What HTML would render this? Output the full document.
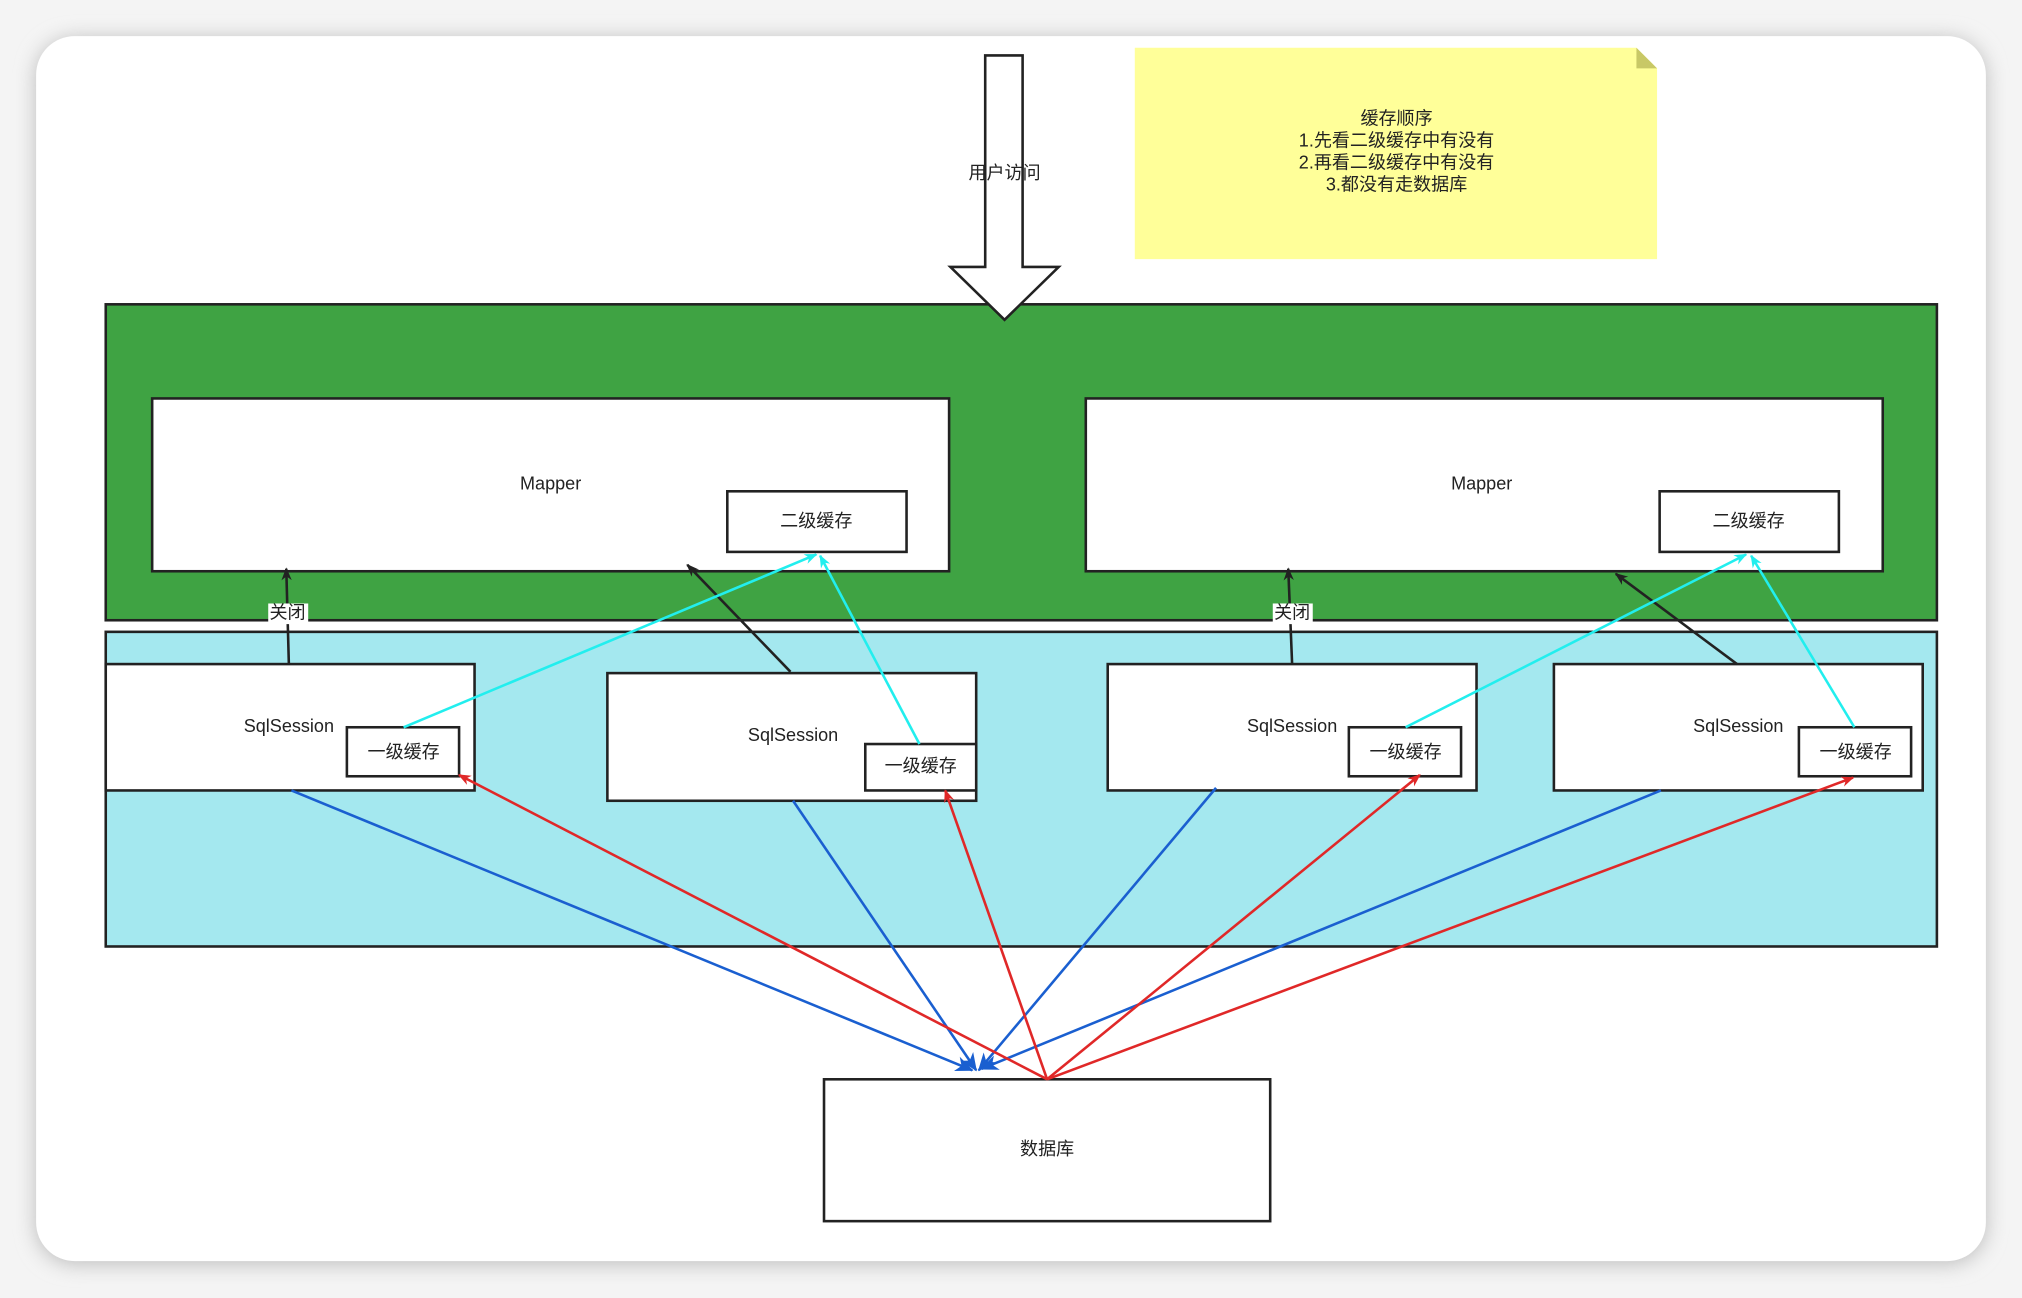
<!DOCTYPE html>
<html><head><meta charset="utf-8">
<style>
html,body{margin:0;padding:0;background:#fff;}
svg{display:block;}
text{font-family:"Liberation Sans","Noto Sans CJK SC",sans-serif;font-size:14px;fill:#222;text-anchor:middle;dominant-baseline:middle;}
</style></head>
<body>
<svg width="2022" height="1298" viewBox="0 0 1568 1006.6" preserveAspectRatio="none" xmlns="http://www.w3.org/2000/svg">
<defs>
<filter id="sh" x="-5%" y="-5%" width="110%" height="110%"><feGaussianBlur stdDeviation="8"/></filter>
<marker id="mk" markerWidth="10" markerHeight="10" refX="9" refY="5" orient="auto" markerUnits="userSpaceOnUse"><path d="M0,1 L10,5 L0,9 L3,5 z" fill="#222"/></marker>
<marker id="mc" markerWidth="10" markerHeight="10" refX="9" refY="5" orient="auto" markerUnits="userSpaceOnUse"><path d="M0,1 L10,5 L0,9 L3,5 z" fill="#22eeee"/></marker>
<marker id="mb" markerWidth="14" markerHeight="12" refX="13" refY="6" orient="auto" markerUnits="userSpaceOnUse"><path d="M0,0 L14,6 L0,12 L4,6 z" fill="#1a5fd0"/></marker>
<marker id="mr" markerWidth="10" markerHeight="10" refX="9" refY="5" orient="auto" markerUnits="userSpaceOnUse"><path d="M0,1 L10,5 L0,9 L3,5 z" fill="#e02828"/></marker>
</defs>
<rect x="0" y="0" width="1568" height="1007" fill="#f4f4f4"/>
<rect x="28" y="30" width="1512" height="950" rx="30" fill="#bbb" filter="url(#sh)"/>
<rect x="28" y="28" width="1512" height="950" rx="30" fill="#fff"/>

<!-- note -->
<path d="M880,37 H1269 L1285,53 V201 H880 z" fill="#ffff99"/>
<path d="M1269,37 L1285,53 H1269 z" fill="#c8c866"/>
<text x="1083" y="93">缓存顺序</text>
<text x="1083" y="110">1.先看二级缓存中有没有</text>
<text x="1083" y="127">2.再看二级缓存中有没有</text>
<text x="1083" y="144">3.都没有走数据库</text>

<!-- green -->
<rect x="82" y="236" width="1420" height="245" fill="#3fa343" stroke="#222" stroke-width="2"/>
<!-- block arrow -->
<path d="M764,43 H793 V207 H821 L779,248 L737,207 H764 z" fill="#fff" stroke="#222" stroke-width="2"/>
<text x="779" y="135">用户访问</text>

<rect x="118" y="309" width="618" height="134" fill="#fff" stroke="#222" stroke-width="2"/>
<text x="427" y="376">Mapper</text>
<rect x="564" y="381" width="139" height="47" fill="#fff" stroke="#222" stroke-width="2"/>
<text x="633" y="405">二级缓存</text>
<rect x="842" y="309" width="618" height="134" fill="#fff" stroke="#222" stroke-width="2"/>
<text x="1149" y="376">Mapper</text>
<rect x="1287" y="381" width="139" height="47" fill="#fff" stroke="#222" stroke-width="2"/>
<text x="1356" y="405">二级缓存</text>

<!-- cyan area -->
<rect x="82" y="490" width="1420" height="244" fill="#a4e8ef" stroke="#222" stroke-width="2"/>

<rect x="82" y="515" width="286" height="98" fill="#fff" stroke="#222" stroke-width="2"/>
<text x="224" y="564">SqlSession</text>
<rect x="269" y="564" width="87" height="38" fill="#fff" stroke="#222" stroke-width="2"/>
<text x="313" y="584">一级缓存</text>

<rect x="471" y="522" width="286" height="99" fill="#fff" stroke="#222" stroke-width="2"/>
<text x="615" y="571">SqlSession</text>
<rect x="671" y="577" width="86" height="36" fill="#fff" stroke="#222" stroke-width="2"/>
<text x="714" y="595">一级缓存</text>

<rect x="859" y="515" width="286" height="98" fill="#fff" stroke="#222" stroke-width="2"/>
<text x="1002" y="564">SqlSession</text>
<rect x="1046" y="564" width="87" height="38" fill="#fff" stroke="#222" stroke-width="2"/>
<text x="1090" y="584">一级缓存</text>

<rect x="1205" y="515" width="286" height="98" fill="#fff" stroke="#222" stroke-width="2"/>
<text x="1348" y="564">SqlSession</text>
<rect x="1395" y="564" width="87" height="38" fill="#fff" stroke="#222" stroke-width="2"/>
<text x="1439" y="584">一级缓存</text>

<!-- black -->
<g stroke="#222" stroke-width="2" fill="none" marker-end="url(#mk)">
<line x1="224" y1="515" x2="222" y2="441"/>
<line x1="613" y1="521" x2="533" y2="438"/>
<line x1="1002" y1="515" x2="999" y2="441"/>
<line x1="1347" y1="515" x2="1253" y2="445"/>
</g>
<rect x="208" y="468" width="31" height="16" fill="#fff"/>
<text x="223" y="476">关闭</text>
<rect x="987" y="468" width="31" height="16" fill="#fff"/>
<text x="1002" y="476">关闭</text>

<!-- cyan -->
<g stroke="#22eeee" stroke-width="2" fill="none" marker-end="url(#mc)">
<line x1="313" y1="564" x2="633" y2="430"/>
<line x1="713" y1="577" x2="636" y2="431"/>
<line x1="1090" y1="564" x2="1354" y2="430"/>
<line x1="1438" y1="564" x2="1358" y2="431"/>
</g>

<!-- database -->
<rect x="639" y="837" width="346" height="110" fill="#fff" stroke="#222" stroke-width="2"/>
<text x="812" y="892">数据库</text>

<!-- blue -->
<g stroke="#1a5fd0" stroke-width="2" fill="none" marker-end="url(#mb)">
<line x1="226" y1="613" x2="754" y2="830"/>
<line x1="615" y1="621" x2="757" y2="830"/>
<line x1="943" y1="611" x2="759" y2="830"/>
<line x1="1288" y1="613" x2="761" y2="829"/>
</g>
<!-- red -->
<g stroke="#e02828" stroke-width="2" fill="none" marker-end="url(#mr)">
<line x1="812" y1="837" x2="356" y2="601"/>
<line x1="812" y1="837" x2="733" y2="613"/>
<line x1="812" y1="837" x2="1101" y2="601"/>
<line x1="812" y1="837" x2="1437" y2="603"/>
</g>
</svg>
</body></html>
